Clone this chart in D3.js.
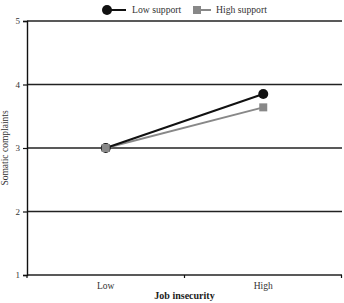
<!DOCTYPE html>
<html>
<head>
<meta charset="utf-8">
<script src="https://cdn.jsdelivr.net/npm/d3@7"></script>
<style>
  body { margin: 0; background: #fff; }
  svg { display: block; font-family: "Liberation Serif", "DejaVu Serif", serif; }
</style>
</head>
<body>
<div id="chart"></div>
<script>
const categories = ["Low", "High"];
const lowSupport = [3.0, 3.85];
const highSupport = [3.0, 3.64];
const yTicks = [1, 2, 3, 4, 5];
const seriesNames = ["Low support", "High support"];

const width = 344, height = 303;
const margin = {top: 21, right: 2, bottom: 28, left: 27};

const svg = d3.select("#chart").append("svg")
  .attr("width", width)
  .attr("height", height);

const x = d3.scaleBand()
  .domain(categories)
  .range([margin.left, width - margin.right]);

const y = d3.scaleLinear()
  .domain([1, 5])
  .range([height - margin.bottom, margin.top]);

// grid lines
svg.append("g")
  .selectAll("line")
  .data(yTicks)
  .join("line")
  .attr("x1", margin.left)
  .attr("x2", width - margin.right)
  .attr("y1", d => y(d))
  .attr("y2", d => y(d))
  .attr("stroke", "#222")
  .attr("stroke-width", 1.4);

// y axis
const yAxis = svg.append("g")
  .attr("transform", `translate(${margin.left},0)`)
  .call(d3.axisLeft(y).tickValues(yTicks).tickSize(4).tickFormat(d3.format("d")));
yAxis.select(".domain").attr("stroke", "#111").attr("stroke-width", 1.4);
yAxis.selectAll(".tick line").attr("stroke", "#111").attr("stroke-width", 1.2);
yAxis.selectAll("text").attr("font-size", 9).attr("fill", "#333")
  .attr("font-family", "Liberation Serif, serif");

// x axis
const xAxis = svg.append("g")
  .attr("transform", `translate(0,${y(1)})`)
  .call(d3.axisBottom(x).tickSize(0).tickPadding(7));
xAxis.select(".domain").remove();
xAxis.selectAll("text").attr("font-size", 9.5).attr("fill", "#333")
  .attr("font-family", "Liberation Serif, serif");

// x boundary ticks
const bounds = [x.range()[0], x(categories[1]), x.range()[1] - 0.5];
svg.append("g")
  .selectAll("line")
  .data(bounds)
  .join("line")
  .attr("x1", d => d).attr("x2", d => d)
  .attr("y1", y(1)).attr("y2", y(1) + 3)
  .attr("stroke", "#111").attr("stroke-width", 1.2);

// axis titles
svg.append("text")
  .attr("x", x.range()[0] + (x.range()[1] - x.range()[0]) / 2)
  .attr("y", 299)
  .attr("text-anchor", "middle")
  .attr("font-size", 10)
  .attr("font-weight", "bold")
  .attr("fill", "#222")
  .text("Job insecurity");

svg.append("text")
  .attr("transform", `translate(8,${y(3)}) rotate(-90)`)
  .attr("text-anchor", "middle")
  .attr("font-size", 9.5)
  .attr("fill", "#333")
  .text("Somatic complaints");

const cx = d => x(d) + x.bandwidth() / 2;
const line = d3.line().x((d, i) => cx(categories[i])).y(d => y(d));

// high support series (grey squares)
svg.append("path")
  .datum(highSupport)
  .attr("d", line)
  .attr("fill", "none")
  .attr("stroke", "#888")
  .attr("stroke-width", 2);
svg.append("g")
  .selectAll("rect")
  .data(highSupport)
  .join("rect")
  .attr("x", (d, i) => cx(categories[i]) - 4)
  .attr("y", d => y(d) - 4)
  .attr("width", 8).attr("height", 8)
  .attr("fill", "#888");

// low support series (black circles)
svg.append("path")
  .datum(lowSupport)
  .attr("d", line)
  .attr("fill", "none")
  .attr("stroke", "#111")
  .attr("stroke-width", 2);
svg.append("g")
  .selectAll("circle")
  .data(lowSupport)
  .join("circle")
  .attr("cx", (d, i) => cx(categories[i]))
  .attr("cy", d => y(d))
  .attr("r", 5)
  .attr("fill", "#111");

// grey marker sits on top at the shared low point
svg.append("rect")
  .attr("x", cx(categories[0]) - 4)
  .attr("y", y(highSupport[0]) - 4)
  .attr("width", 8).attr("height", 8)
  .attr("fill", "#888");

// legend
const legend = svg.append("g").attr("font-size", 9.7).attr("fill", "#333");
const lg1 = legend.append("g").attr("transform", "translate(104,10)");
lg1.append("line").attr("x1", 0).attr("x2", 22).attr("stroke", "#111").attr("stroke-width", 2);
lg1.append("circle").attr("cx", 3).attr("r", 5).attr("fill", "#111");
lg1.append("text").attr("x", 28).attr("y", 3).text(seriesNames[0]);

const lg2 = legend.append("g").attr("transform", "translate(193,10)");
lg2.append("line").attr("x1", 4).attr("x2", 18).attr("stroke", "#888").attr("stroke-width", 2);
lg2.append("rect").attr("x", 0).attr("y", -4).attr("width", 8).attr("height", 8).attr("fill", "#888");
lg2.append("text").attr("x", 23).attr("y", 3).text(seriesNames[1]);
</script>
</body>
</html>
